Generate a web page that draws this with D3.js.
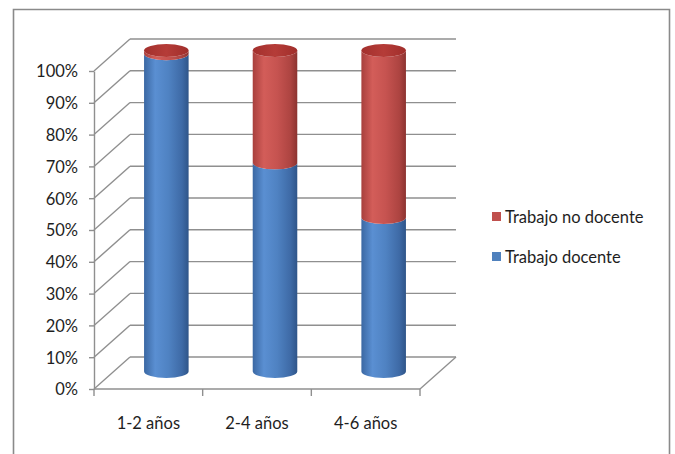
<!DOCTYPE html>
<html>
<head>
<meta charset="utf-8">
<script src="https://cdn.jsdelivr.net/npm/d3@7"></script>
<style>
  html, body { margin: 0; padding: 0; background: #fff; }
  svg { display: block; }
  text { font-family: Lato, "Open Sans", sans-serif; fill: #1e1e1e; }
</style>
</head>
<body>
<div id="chart"></div>
<script>
// Share of time by seniority band: teaching vs. non-teaching work
const categories = ["1-2 años", "2-4 años", "4-6 años"];
const docente = [99, 65, 48];        // Trabajo docente (%)
const noDocente = [1, 35, 52];       // Trabajo no docente (%)
const yTicks = [0, 10, 20, 30, 40, 50, 60, 70, 80, 90, 100];
const seriesNames = ["Trabajo no docente", "Trabajo docente"];

const W = 675, H = 454;
const svg = d3.select("#chart").append("svg").attr("width", W).attr("height", H);

// 3D box geometry
const depthX = 36, depthY = -32;
const x = d3.scaleBand().domain(categories).range([94, 420]).padding(0);
const yFront = d3.scaleLinear().domain([0, 100]).range([389, 71]);
const yCyl = d3.scaleLinear().domain([0, 100]).range([371.5, 50.5]);

// outer frame
svg.append("path")
  .attr("d", `M13.5,${H} L13.5,9.5 L669.5,9.5 L669.5,${H}`)
  .attr("fill", "none").attr("stroke", "#8a8a8a").attr("stroke-width", 1.6);

const grid = svg.append("g").attr("stroke", "#8f8f8f").attr("stroke-width", 1.4).attr("fill", "none");
const x0 = x.range()[0], x1 = x.range()[1];

// back-wall gridlines and side-wall diagonals
yTicks.forEach(v => {
  const yf = yFront(v);
  grid.append("line").attr("x1", x0 + depthX).attr("x2", x1 + depthX)
    .attr("y1", yf + depthY).attr("y2", yf + depthY);
  grid.append("line").attr("x1", x0).attr("y1", yf)
    .attr("x2", x0 + depthX).attr("y2", yf + depthY);
});
// floor front edge and right edge
grid.append("line").attr("x1", x0).attr("x2", x1).attr("y1", yFront(0)).attr("y2", yFront(0));
grid.append("line").attr("x1", x1).attr("y1", yFront(0))
  .attr("x2", x1 + depthX).attr("y2", yFront(0) + depthY);
// category boundary ticks
const bounds = categories.map(c => x(c)).concat([x1]);
bounds.forEach(b => {
  grid.append("line").attr("x1", b).attr("x2", b).attr("y1", yFront(0)).attr("y2", yFront(0) + 7);
});

// value axis on the front-left edge
const yAxis = svg.append("g").attr("transform", `translate(${x0},0)`)
  .call(d3.axisLeft(yFront).tickValues(yTicks).tickFormat(d => d + "%").tickSize(5).tickSizeOuter(0));
yAxis.select(".domain").attr("stroke", "#8f8f8f").attr("stroke-width", 1.4);
yAxis.selectAll(".tick line").attr("stroke", "#8f8f8f").attr("stroke-width", 1.4);
yAxis.selectAll(".tick text").attr("x", -16).attr("dy", "0.36em")
  .style("font-family", "Lato, 'Open Sans', sans-serif").style("font-size", "16.5px").attr("fill", "#1e1e1e");

// category labels
svg.append("g").selectAll("text").data(categories).join("text")
  .attr("x", d => x(d) + x.bandwidth() / 2)
  .attr("y", 429)
  .attr("text-anchor", "middle")
  .style("font-size", "16.5px")
  .text(d => d);

// cylinder shading gradients
const defs = svg.append("defs");
function grad(id, stops) {
  const g = defs.append("linearGradient").attr("id", id).attr("x1", "0%").attr("x2", "100%").attr("y1", "0%").attr("y2", "0%");
  stops.forEach(([o, c]) => g.append("stop").attr("offset", o).attr("stop-color", c));
}
grad("gBlue", [["0%", "#3b68a3"], ["25%", "#5a8fd2"], ["55%", "#4f82c2"], ["85%", "#3e6aa6"], ["100%", "#2f5589"]]);
grad("gRed", [["0%", "#a8403d"], ["25%", "#d35d59"], ["55%", "#c65350"], ["85%", "#ad4441"], ["100%", "#8c3330"]]);
grad("gCap", [["0%", "#a3302d"], ["50%", "#b53c38"], ["100%", "#a02e2b"]]);

const rx = x.bandwidth() * 0.205, ry = 6.5;

function body(cx, yTop, yBot) {
  return `M${cx - rx},${yTop} L${cx - rx},${yBot} A${rx},${ry} 0 0 0 ${cx + rx},${yBot} ` +
         `L${cx + rx},${yTop} A${rx},${ry} 0 0 1 ${cx - rx},${yTop} Z`;
}

const stacks = categories.map((c, i) => ({
  cat: c,
  segs: [
    { y0: 0, y1: docente[i], fill: "url(#gBlue)" },
    { y0: docente[i], y1: docente[i] + noDocente[i], fill: "url(#gRed)" }
  ]
}));

const bars = svg.append("g").selectAll("g").data(stacks).join("g");
bars.each(function (d) {
  const g = d3.select(this);
  const cx = x(d.cat) + x.bandwidth() / 2 + depthX / 2;
  d.segs.forEach(s => {
    g.append("path").attr("d", body(cx, yCyl(s.y1), yCyl(s.y0))).attr("fill", s.fill);
  });
  const top = d.segs[d.segs.length - 1].y1;
  g.append("ellipse").attr("cx", cx).attr("cy", yCyl(top)).attr("rx", rx).attr("ry", ry)
    .attr("fill", "url(#gCap)");
});

// legend
const legend = svg.append("g");
const legendColors = ["#c0504d", "#4f81bd"];
seriesNames.forEach((name, i) => {
  const ly = 217 + i * 40;
  legend.append("rect").attr("x", 492).attr("y", ly - 5).attr("width", 9).attr("height", 9)
    .attr("fill", legendColors[i]);
  legend.append("text").attr("x", 505).attr("y", ly).attr("dy", "0.36em")
    .style("font-size", "16.5px").text(name);
});
</script>
</body>
</html>
